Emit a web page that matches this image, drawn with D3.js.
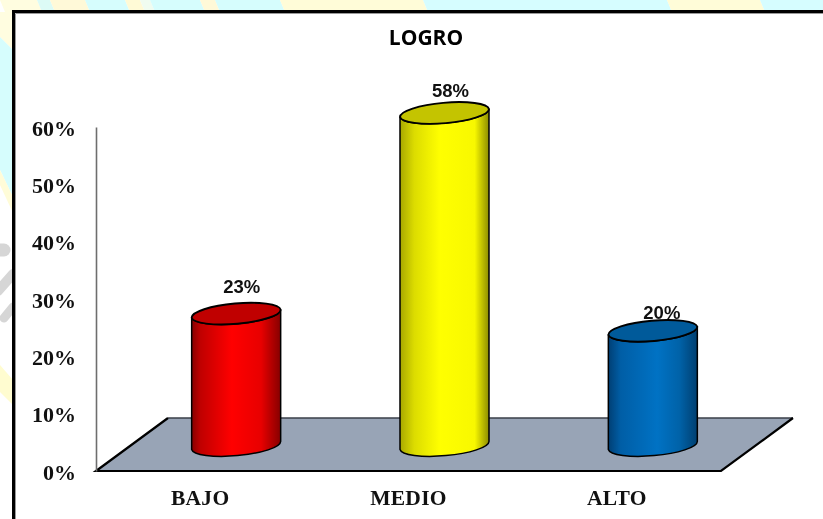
<!DOCTYPE html>
<html>
<head>
<meta charset="utf-8">
<script src="https://cdn.jsdelivr.net/npm/d3@7/dist/d3.min.js"></script>
<style>
html,body{margin:0;padding:0;background:#fff;overflow:hidden}
svg{display:block;filter:blur(0.4px)}
</style>
</head>
<body>
<div id="chart"></div>
<script>
const chartTitle = "LOGRO";
const categories = ["BAJO", "MEDIO", "ALTO"];
const values = [0.23, 0.58, 0.20];
const valueLabels = ["23%", "58%", "20%"];
const yTicks = [0, 0.1, 0.2, 0.3, 0.4, 0.5, 0.6];
const bodyStops = [
  [[0,"#860000"],[0.1,"#c00000"],[0.45,"#ff0000"],[0.78,"#e80000"],[1,"#860000"]],
  [[0,"#a8a800"],[0.16,"#dcdc00"],[0.45,"#ffff00"],[0.84,"#f8f800"],[1,"#8c8c00"]],
  [[0,"#003f74"],[0.14,"#005ea6"],[0.55,"#0072c4"],[0.8,"#0062a8"],[1,"#003f70"]]
];
const capColors = ["#c00000", "#c4c400", "#005a9a"];
const labelNudgeX = [5.5, 6, 9];
const labelNudgeY = [-21, -16, -12];
// watermark pieces around the chart panel
const topStrip = [[0,37,"#fffde0"],[37,50,"#dcfbf6"],[50,85,"#fff9d8"],[85,125,"#d6fdfd"],[125,140,"#fffad6"],[140,150,"#f0fcf0"],[150,200,"#d6fdfd"],[200,215,"#fff9d8"],[215,280,"#d6fdfd"],[280,423,"#fffcd8"],[423,667,"#d6fdff"],[667,760,"#fffcd8"],[760,823,"#d6fdff"]];
const leftPieces = [
  ["#fffde0", "0,12 13,12 13,50 0,37"],
  ["#d6fdfd", "0,37 13,50 13,197 0,170"],
  ["#fffcd8", "0,170 13,197 13,213 0,185"],
  ["#fffcd0", "0,365 13,380 13,405 0,392"]
];
const greyMarks = [[-2,250,4,250,13],[-2,291,13,274,10],[4,318,13,307,9]];

const W = 823, H = 519;
const svg = d3.select("#chart").append("svg").attr("width", W).attr("height", H);
const defs = svg.append("defs");

svg.append("g").selectAll("path").data(topStrip).join("path")
  .attr("d", d => `M${d[0]} 0H${d[1]}L${d[1]+5} 12H${d[0]+5}Z`).attr("fill", d => d[2]);
svg.append("g").selectAll("polygon").data(leftPieces).join("polygon")
  .attr("points", d => d[1]).attr("fill", d => d[0]);
svg.append("g").selectAll("line").data(greyMarks).join("line")
  .attr("x1", d => d[0]).attr("y1", d => d[1]).attr("x2", d => d[2]).attr("y2", d => d[3])
  .attr("stroke-width", d => d[4]).attr("stroke", "#d6d6d6").attr("stroke-linecap", "round");

// panel
svg.append("rect").attr("x", 13).attr("y", 11).attr("width", W).attr("height", H).attr("fill", "#fff");
svg.append("path").attr("d", `M${15.5} ${H}V${13.5}H${W}`).attr("fill","none").attr("stroke","#9a9a9a").attr("stroke-width",1);
svg.append("path").attr("d", `M${13.5} ${H}V${11.5}H${W}`).attr("fill","none").attr("stroke","#000").attr("stroke-width",3);

const x = d3.scaleBand().domain(categories).range([96, 721]);
const y = d3.scaleLinear().domain([0, 0.6]).range([471, 127]);

// floor
const depthX = 72, depthY = 53;
svg.append("path")
  .attr("d", `M${x.range()[0]} ${y(0)}L${x.range()[1]} ${y(0)}L${x.range()[1]+depthX} ${y(0)-depthY}L${x.range()[0]+depthX} ${y(0)-depthY}Z`)
  .attr("fill", "#98a4b6").attr("stroke", "none");
svg.append("path")
  .attr("d", `M${x.range()[0]+depthX} ${y(0)-depthY}H${x.range()[1]+depthX}`)
  .attr("stroke", "#3a3f48").attr("stroke-width", 1.3).attr("fill","none");
svg.append("path")
  .attr("d", `M${x.range()[0]+depthX} ${y(0)-depthY}L${x.range()[0]} ${y(0)}H${x.range()[1]}L${x.range()[1]+depthX} ${y(0)-depthY}`)
  .attr("stroke", "#000").attr("stroke-width", 2.2).attr("fill","none");

// axes
const yAxis = svg.append("g").attr("transform", `translate(${x.range()[0]},1)`)
  .call(d3.axisLeft(y).tickValues(yTicks).tickFormat(d3.format(".0%")).tickSize(0).tickPadding(20));
yAxis.select(".domain").attr("stroke", "#6e6e6e").attr("stroke-width", 1.6).attr("transform","translate(0,-1)");
yAxis.selectAll("text").attr("font-family", "'Liberation Serif'").attr("font-weight", "bold").attr("font-size", 22).attr("fill", "#111");

const xAxis = svg.append("g").attr("transform", `translate(0,${y(0)})`)
  .call(d3.axisBottom(x).tickSize(0).tickPadding(18.5));
xAxis.select(".domain").remove();
xAxis.selectAll("text").attr("font-family", "'Liberation Serif'").attr("font-weight", "bold").attr("font-size", 21.5).attr("letter-spacing", 0.3).attr("fill", "#111");

// cylinders
const depthCx = depthX / 2, baseLift = 25.5, halfW = 44.5, tiltY = 4, rx = 44.7, ry = 10.5, rot = -5;
const cx = (d) => x(d) + x.bandwidth()/2 + depthCx;
const baseY = y(0) - baseLift;
const topY = (i) => y(0) - baseLift - (y(0) - y(values[i]));

categories.forEach((c, i) => {
  const g = defs.append("linearGradient").attr("id", "body"+i);
  bodyStops[i].forEach(s => g.append("stop").attr("offset", s[0]).attr("stop-color", s[1]));
});
const bars = svg.append("g").selectAll("g").data(categories).join("g");
bars.append("path")
  .attr("d", (d,i) => {
    const c = cx(d), t = topY(i);
    return `M${c-halfW} ${t+tiltY}V${baseY+tiltY}A${rx} ${ry} ${rot} 0 0 ${c+halfW} ${baseY-tiltY}V${t-tiltY}A${rx} ${ry} ${rot} 0 1 ${c-halfW} ${t+tiltY}Z`;
  })
  .attr("fill", (d,i) => `url(#body${i})`).attr("stroke", "#000").attr("stroke-width", 1.5);
bars.append("path")
  .attr("d", (d,i) => {
    const c = cx(d), t = topY(i);
    return `M${c-halfW} ${t+tiltY}A${rx} ${ry} ${rot} 0 0 ${c+halfW} ${t-tiltY}A${rx} ${ry} ${rot} 0 0 ${c-halfW} ${t+tiltY}Z`;
  })
  .attr("fill", (d,i) => capColors[i]).attr("stroke", "#000").attr("stroke-width", 1.9);
bars.append("text")
  .attr("x", (d,i) => cx(d) + labelNudgeX[i])
  .attr("y", (d,i) => topY(i) + labelNudgeY[i])
  .attr("text-anchor", "middle")
  .attr("font-family", "'Liberation Sans'").attr("font-weight", "bold").attr("font-size", 18.5).attr("fill", "#111")
  .text((d,i) => valueLabels[i]);

svg.append("text").attr("x", 426).attr("y", 45).attr("text-anchor", "middle")
  .attr("font-family", "'Open Sans'").attr("font-weight", "bold").attr("font-size", 21).attr("fill", "#000")
  .text(chartTitle);
</script>
</body>
</html>
